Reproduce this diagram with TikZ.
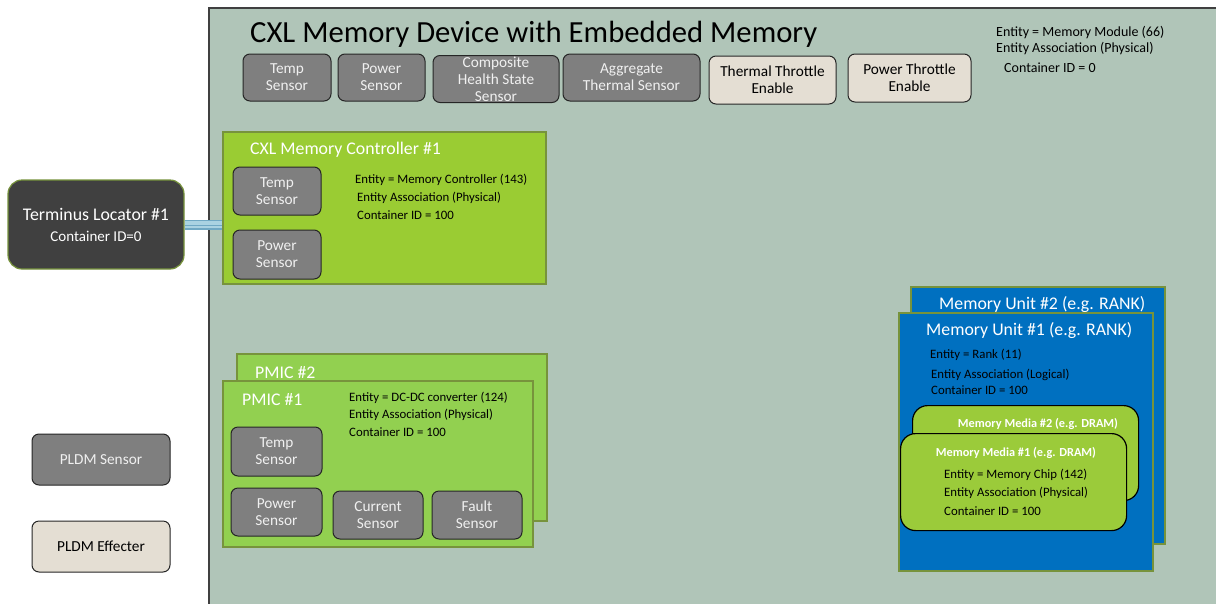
\documentclass[tikz,border=0pt]{standalone}
\usepackage{fontspec}
\setmainfont{Carlito}
\definecolor{bgc}{HTML}{B0C5B8}
\definecolor{framec}{HTML}{404040}
\definecolor{sensgray}{HTML}{7F7F7F}
\definecolor{effbeige}{HTML}{E4DED3}
\definecolor{ctrlgreen}{HTML}{9ACC33}
\definecolor{pmicgreen}{HTML}{92D050}
\definecolor{gborder}{HTML}{77933C}
\definecolor{unitblue}{HTML}{0070C0}
\definecolor{mediagreen}{HTML}{9BCB3A}
\definecolor{termgray}{HTML}{404040}
\definecolor{pipeedge}{HTML}{6FA8C4}
\definecolor{pipefill}{HTML}{A9D2E2}
\definecolor{lighttext}{HTML}{F0F0F0}
\tikzset{
  sensbox/.style={draw=black!85, fill=sensgray, rounded corners=7pt, text=lighttext,
    align=center, font=\fontsize{15.3}{17}\selectfont, inner sep=0pt, line width=1pt},
  effbox/.style={sensbox, fill=effbeige, text=black},
  pane/.style={rectangle, draw=gborder, line width=1.5pt, inner sep=0pt, anchor=north west},
  panetitle/.style={anchor=west, inner sep=0pt, yshift=-1.5pt, text=white, font=\fontsize{17.8}{20}\selectfont},
  info/.style={anchor=west, inner sep=0pt, yshift=-1.5pt, text=black, font=\fontsize{12.8}{14}\selectfont},
  mediabox/.style={draw=black, fill=mediagreen, rounded corners=15pt, line width=1.2pt,
    inner sep=0pt, anchor=north west},
  mediatitle/.style={inner sep=0pt, yshift=-1.5pt, text=white, font=\fontsize{12.3}{14}\selectfont\bfseries},
}
\begin{document}
\begin{tikzpicture}[x=1pt,y=-1pt]
\useasboundingbox (0,0) rectangle (1216,603);
\begin{scope}
\clip (0,0) rectangle (1216,603);
\fill[white] (0,0) rectangle (1216,603);
\draw[fill=bgc, draw=framec, line width=2pt] (209,8) rectangle (1240,640);
\end{scope}

% title and module info
\node[anchor=west, inner sep=0pt, yshift=-2pt, font=\fontsize{30.7}{32}\selectfont] (title) at (250,32) {CXL Memory Device with Embedded Memory};
\node[info, font=\fontsize{14}{16}\selectfont] (mm1) at (996,31) {Entity = Memory Module (66)};
\node[info, font=\fontsize{14}{16}\selectfont] (mm2) at (996,47) {Entity Association (Physical)};
\node[info, font=\fontsize{14}{16}\selectfont] (mm3) at (1004,66) {Container ID = 0};

% top sensors / effecters
\node[sensbox, minimum width=88, minimum height=47] (ts) at (287,77.5) {Temp\\Sensor};
\node[sensbox, minimum width=87, minimum height=47] (ps) at (381.5,77.5) {Power\\Sensor};
\node[sensbox, minimum width=126, minimum height=47] (chs) at (496,79) {Composite\\Health State\\Sensor};
\node[sensbox, minimum width=137, minimum height=47] (ats) at (631.5,77.5) {Aggregate\\Thermal Sensor};
\node[effbox, minimum width=127, minimum height=48] (tte) at (772.5,80) {Thermal Throttle\\Enable};
\node[effbox, minimum width=123, minimum height=48] (pte) at (909.5,78) {Power Throttle\\Enable};

% terminus locator
\node[draw=gborder, fill=termgray, rounded corners=14pt, line width=1.2pt, minimum width=176, minimum height=89,
  text=white, align=center, inner sep=0pt, font=\fontsize{17.8}{21}\selectfont] (term) at (96,224.5)
  {Terminus Locator \#1\\{\fontsize{15}{18}\selectfont Container ID=0}};

% CXL memory controller
\node[pane, fill=ctrlgreen, minimum width=323, minimum height=152] (ctrl) at (222,131) {};
\node[panetitle] (ctrlt) at (250,148) {CXL Memory Controller \#1};
\node[sensbox, minimum width=88, minimum height=48] (cts) at (277,191) {Temp\\Sensor};
\node[sensbox, minimum width=88, minimum height=49] (cps) at (277,254.5) {Power\\Sensor};
\node[info] (c1) at (355,178) {Entity = Memory Controller (143)};
\node[info] (c2) at (357,196) {Entity Association (Physical)};
\node[info] (c3) at (357,214) {Container ID = 100};

% connector
\draw[pipeedge, line width=10pt] (term.east) -- (term.east -| ctrl.west);
\draw[pipefill, line width=7pt] (term.east) -- (term.east -| ctrl.west);
\draw[pipeedge, line width=0.8pt] ([yshift=-1pt]term.east) -- ([yshift=-1pt]term.east -| ctrl.west);

% PMICs
\node[pane, fill=pmicgreen, minimum width=310, minimum height=167] (pmic2) at (236,353) {};
\node[panetitle] (pmic2t) at (255,371) {PMIC \#2};
\node[pane, fill=pmicgreen, minimum width=310, minimum height=166] (pmic1) at (222,380) {};
\node[panetitle] (pmic1t) at (242,398) {PMIC \#1};
\node[info] (p1) at (349,396) {Entity = DC-DC converter (124)};
\node[info] (p2) at (349,413) {Entity Association (Physical)};
\node[info] (p3) at (349,431) {Container ID = 100};
\node[sensbox, minimum width=91, minimum height=49] (pts) at (276.5,451.5) {Temp\\Sensor};
\node[sensbox, minimum width=91, minimum height=48] (pps) at (276.5,512) {Power\\Sensor};
\node[sensbox, minimum width=90, minimum height=48] (pcs) at (378,515) {Current\\Sensor};
\node[sensbox, minimum width=90, minimum height=48] (pfs) at (477,515) {Fault\\Sensor};

% memory units
\node[pane, fill=unitblue, minimum width=254, minimum height=257] (mu2) at (910,286) {};
\node[panetitle] (mu2t) at (939,303) {Memory Unit \#2 (e.g. RANK)};
\node[pane, fill=unitblue, minimum width=254, minimum height=258] (mu1) at (898,312) {};
\node[panetitle] (mu1t) at (926,329) {Memory Unit \#1 (e.g. RANK)};
\node[info] (u1) at (930,353) {Entity = Rank (11)};
\node[info] (u2) at (931,373) {Entity Association (Logical)};
\node[info] (u3) at (931,389) {Container ID = 100};

% memory media
\node[mediabox, minimum width=226, minimum height=95] (mm2b) at (912,405) {};
\node[mediatitle] (mm2t) at (1038,422) {Memory Media \#2 (e.g. DRAM)};
\node[mediabox, minimum width=226, minimum height=97] (mm1b) at (900,433) {};
\node[mediatitle] (mm1t) at (1016,451) {Memory Media \#1 (e.g. DRAM)};
\node[info] (d1) at (944,473) {Entity = Memory Chip (142)};
\node[info] (d2) at (944,491) {Entity Association (Physical)};
\node[info] (d3) at (944,510) {Container ID = 100};

% legend
\node[sensbox, minimum width=138, minimum height=51] (leg1) at (101,459.5) {PLDM Sensor};
\node[effbox, minimum width=138, minimum height=51] (leg2) at (101,546.5) {PLDM Effecter};
\end{tikzpicture}
\end{document}
